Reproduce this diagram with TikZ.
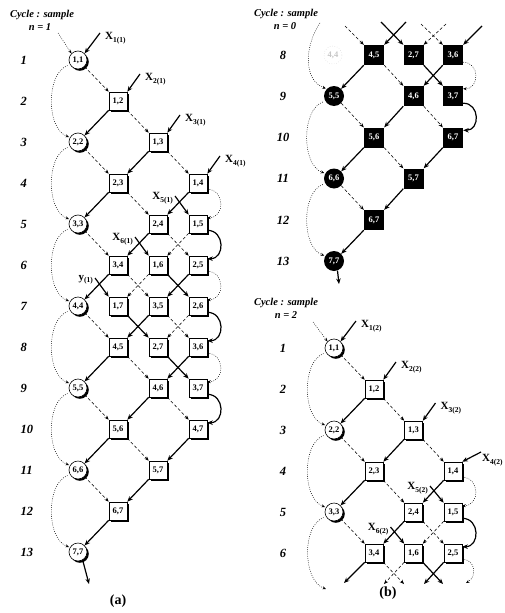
\documentclass[tikz,border=0pt]{standalone}
\usepackage{fontspec}
\setmainfont{Liberation Serif}
\usetikzlibrary{arrows.meta,shadows}
\newcommand\nodefont{\bfseries\fontsize{8.5}{9}\selectfont}
\newcommand\Xlab[2]{X\raisebox{-2.5pt}{\fontsize{7.5}{8}\selectfont #1(#2)}}
\newcommand\Ylab[1]{y\raisebox{-2.5pt}{\fontsize{7.5}{8}\selectfont (#1)}}
\newcommand\eSL[2]{\draw[solarr] (#1.south west) -- (#2.north east);}
\newcommand\eSR[2]{\draw[solarr] (#1.south east) -- (#2.north west);}
\newcommand\eDL[2]{\draw[dasharr] (#1.south west) -- (#2.north east);}
\newcommand\eDR[2]{\draw[dasharr] (#1.south east) -- (#2.north west);}
\newcommand\eArcS[2]{\draw[solarr] ([yshift=3pt]#1.south east) to[out=0,in=0,looseness=1.6] ([yshift=-3pt]#2.north east);}
\newcommand\eArcD[2]{\draw[dotarr] ([yshift=3pt]#1.south east) to[out=0,in=0,looseness=1.6] ([yshift=-3pt]#2.north east);}
\newcommand\eFB[2]{\draw[dotarr, shorten <=2.5pt, shorten >=1pt] (#1.210) to[out=200,in=160,looseness=0.9] (#2.150);}
\tikzset{
  sq/.style={rectangle, draw, line width=0.6pt, fill=white, minimum size=18pt, inner sep=0pt, font=\nodefont,
    general shadow={fill=black, shadow xshift=1.8pt, shadow yshift=-1.8pt}},
  cir/.style={circle, draw, line width=0.6pt, fill=white, minimum size=18pt, inner sep=0pt, font=\nodefont,
    general shadow={fill=black, shadow xshift=1.8pt, shadow yshift=-1.8pt}},
  bsq/.style={rectangle, fill=black, minimum size=20pt, inner sep=0pt, text=white, font=\nodefont},
  bcir/.style={circle, fill=black, minimum size=20pt, inner sep=0pt, text=white, font=\nodefont},
  ghost/.style={circle, draw=gray!45, dotted, minimum size=18pt, inner sep=0pt, text=gray!45, font=\nodefont},
  solarr/.style={line width=1.2pt, -{Stealth[length=5.5pt,width=4.5pt]}},
  dasharr/.style={line width=0.55pt, dash pattern=on 3pt off 2.2pt, -{Stealth[length=4.5pt,width=3.5pt]}},
  dotarr/.style={line width=0.5pt, dash pattern=on 0.8pt off 1.4pt, -{Stealth[length=3.5pt,width=3pt]}},
  rowlab/.style={font=\bfseries\itshape\fontsize{12.5}{13}\selectfont, inner sep=0pt},
  cyc/.style={font=\bfseries\itshape\fontsize{10.5}{11}\selectfont, inner sep=0pt},
  inlab/.style={font=\bfseries\fontsize{11}{12}\selectfont, inner sep=0pt},
  panlab/.style={font=\bfseries\fontsize{14}{15}\selectfont, inner sep=0pt}
}
\begin{document}
\begin{tikzpicture}[x=1pt,y=1pt]
\useasboundingbox (0,0) rectangle (504,-613);
\fill[white] (0,0) rectangle (504,-613);

% ================= Panel (a) =================
\node[cyc] (cyca) at (42,-15) {Cycle : sample};
\node[cyc] (na) at (40,-27) {n = 1};
\foreach \k in {1,...,13}{
  \node[rowlab, anchor=west] (ra\k) at (20.5,{-60-41*(\k-1)}) {\k};
}
\node[cir] (a11) at (78,-60) {1,1};
\node[sq] (a12) at (118,-101) {1,2};
\node[cir] (a22) at (78,-142) {2,2};
\node[sq] (a13) at (158,-142) {1,3};
\node[sq] (a23) at (118,-183) {2,3};
\node[sq] (a14) at (198,-183) {1,4};
\node[cir] (a33) at (78,-224) {3,3};
\node[sq] (a24) at (158,-224) {2,4};
\node[sq] (a15) at (198,-224) {1,5};
\node[sq] (a34) at (118,-265) {3,4};
\node[sq] (a16) at (158,-265) {1,6};
\node[sq] (a25) at (198,-265) {2,5};
\node[cir] (a44) at (78,-306) {4,4};
\node[sq] (a17) at (118,-306) {1,7};
\node[sq] (a35) at (158,-306) {3,5};
\node[sq] (a26) at (198,-306) {2,6};
\node[sq] (a45) at (118,-347) {4,5};
\node[sq] (a27) at (158,-347) {2,7};
\node[sq] (a36) at (198,-347) {3,6};
\node[cir] (a55) at (78,-388) {5,5};
\node[sq] (a46) at (158,-388) {4,6};
\node[sq] (a37) at (198,-388) {3,7};
\node[sq] (a56) at (118,-429) {5,6};
\node[sq] (a47) at (198,-429) {4,7};
\node[cir] (a66) at (78,-470) {6,6};
\node[sq] (a57) at (158,-470) {5,7};
\node[sq] (a67) at (118,-511) {6,7};
\node[cir] (a77) at (78,-552) {7,7};

\eDR{a11}{a12}
\eSL{a12}{a22} \eDR{a12}{a13}
\eDR{a22}{a23} \eSL{a13}{a23} \eDR{a13}{a14}
\eSL{a23}{a33} \eDR{a23}{a24} \eSL{a14}{a24} \eArcD{a14}{a15}
\eDR{a33}{a34} \eSL{a24}{a34} \eDR{a24}{a25} \eDL{a15}{a16} \eArcS{a15}{a25}
\eSL{a34}{a44} \eDR{a34}{a35} \eDL{a16}{a17} \eSR{a16}{a26} \eSL{a25}{a35} \eArcD{a25}{a26}
\eDR{a44}{a45} \eSR{a17}{a27} \eSL{a35}{a45} \eDR{a35}{a36} \eDL{a26}{a27} \eArcS{a26}{a36}
\eSL{a45}{a55} \eDR{a45}{a46} \eSR{a27}{a37} \eSL{a36}{a46} \eArcD{a36}{a37}
\eDR{a55}{a56} \eSL{a46}{a56} \eDR{a46}{a47} \eArcS{a37}{a47}
\eSL{a56}{a66} \eDR{a56}{a57} \eSL{a47}{a57}
\eDR{a66}{a67} \eSL{a57}{a67}
\eSL{a67}{a77}
\coordinate (aout) at (89,-584);
\draw[solarr] (a77.-60) -- (aout);

\coordinate (ain) at (58,-33);
\draw[dotarr] (ain) -- (a11.north west);
\eFB{a11}{a22} \eFB{a22}{a33} \eFB{a33}{a44} \eFB{a44}{a55} \eFB{a55}{a66} \eFB{a66}{a77}

\node[inlab, anchor=west] (xa1) at (105,-38) {\Xlab{1}{1}};
\coordinate (sa1) at (100,-33); \draw[solarr] (sa1) -- (a11.north east);
\node[inlab, anchor=west] (xa2) at (145,-79) {\Xlab{2}{1}};
\coordinate (sa2) at (140,-74); \draw[solarr] (sa2) -- (a12.north east);
\node[inlab, anchor=west] (xa3) at (185,-120) {\Xlab{3}{1}};
\coordinate (sa3) at (180,-115); \draw[solarr] (sa3) -- (a13.north east);
\node[inlab, anchor=west] (xa4) at (225,-161) {\Xlab{4}{1}};
\coordinate (sa4) at (220,-156); \draw[solarr] (sa4) -- (a14.north east);
\node[inlab, anchor=east] (xa5) at (173,-198) {\Xlab{5}{1}};
\coordinate (sa5) at (175,-196); \draw[solarr] (sa5) -- (a15.north west);
\node[inlab, anchor=east] (xa6) at (133,-239) {\Xlab{6}{1}};
\coordinate (sa6) at (135,-237); \draw[solarr] (sa6) -- (a16.north west);
\node[inlab, anchor=east] (ya7) at (93,-280) {\Ylab{1}};
\coordinate (sa7) at (95,-278); \draw[solarr] (sa7) -- (a17.north west);

\node[panlab] (pa) at (118,-601) {(a)};

% ================= Panel (b) top, n = 0 =================
\node[cyc] (cycb) at (286,-14) {Cycle : sample};
\node[cyc] (nb) at (285,-26) {n = 0};
\foreach \k/\yy in {8/55,9/96,10/137.5,11/178.5,12/220,13/261}{
  \node[rowlab] (rb\k) at (283,-\yy) {\k};
}
\node[ghost] (g44) at (333,-55) {4,4};
\node[bsq] (b45) at (374,-55) {4,5};
\node[bsq] (b27) at (413.5,-55) {2,7};
\node[bsq] (b36) at (453,-55) {3,6};
\node[bcir] (b55) at (334,-96) {5,5};
\node[bsq] (b46) at (413.5,-96) {4,6};
\node[bsq] (b37) at (453,-96) {3,7};
\node[bsq] (b56) at (374,-137.5) {5,6};
\node[bsq] (b47) at (453,-137.5) {6,7};
\node[bcir] (b66) at (334,-178.5) {6,6};
\node[bsq] (b57) at (413.5,-178.5) {5,7};
\node[bsq] (b67) at (374,-220) {6,7};
\node[bcir] (b77) at (334,-261) {7,7};

\coordinate (t1) at (345,-26); \draw[dasharr] (t1) -- (b45.north west);
\coordinate (t2) at (406,-22); \draw[solarr] (t2) -- (b45.north east);
\coordinate (t3) at (381,-22); \draw[solarr] (t3) -- (b27.north west);
\coordinate (t4) at (446,-24); \draw[dasharr] (t4) -- (b27.north east);
\coordinate (t5) at (421,-24); \draw[dasharr] (t5) -- (b36.north west);
\coordinate (t6) at (482,-26); \draw[solarr] (t6) -- (b36.north east);

\eSL{b45}{b55} \eDR{b45}{b46} \eSR{b27}{b37} \eSL{b36}{b46} \eArcD{b36}{b37}
\eDR{b55}{b56} \eSL{b46}{b56} \eDR{b46}{b47} \eArcS{b37}{b47}
\eSL{b56}{b66} \eDR{b56}{b57} \eSL{b47}{b57}
\eDR{b66}{b67} \eSL{b57}{b67}
\eSL{b67}{b77}
\coordinate (bout) at (339,-284);
\draw[solarr] (b77.-70) -- (bout);

\coordinate (bin) at (320,-23);
\draw[dotarr, shorten >=1pt] (bin) to[out=235,in=160] (b55.north west);
\eFB{b55}{b66} \eFB{b66}{b77}

% ================= Panel (b) bottom, n = 2 =================
\node[cyc] (cycc) at (286,-303) {Cycle : sample};
\node[cyc] (nc) at (286,-315) {n = 2};
\foreach \k in {1,...,6}{
  \node[rowlab] (rc\k) at (283,{-348-41*(\k-1)}) {\k};
}
\node[cir] (c11) at (334,-348) {1,1};
\node[sq] (c12) at (374,-389) {1,2};
\node[cir] (c22) at (334,-430) {2,2};
\node[sq] (c13) at (413.5,-430) {1,3};
\node[sq] (c23) at (374,-471) {2,3};
\node[sq] (c14) at (453,-471) {1,4};
\node[cir] (c33) at (334,-512) {3,3};
\node[sq] (c24) at (413.5,-512) {2,4};
\node[sq] (c15) at (453,-512) {1,5};
\node[sq] (c34) at (374,-553) {3,4};
\node[sq] (c16) at (413.5,-553) {1,6};
\node[sq] (c25) at (453,-553) {2,5};

\eDR{c11}{c12}
\eSL{c12}{c22} \eDR{c12}{c13}
\eDR{c22}{c23} \eSL{c13}{c23} \eDR{c13}{c14}
\eSL{c23}{c33} \eDR{c23}{c24} \eSL{c14}{c24} \eArcD{c14}{c15}
\eDR{c33}{c34} \eSL{c24}{c34} \eDR{c24}{c25} \eDL{c15}{c16} \eArcS{c15}{c25}

\coordinate (u1) at (344,-583); \draw[solarr] (c34.south west) -- (u1);
\coordinate (u2) at (404,-584); \draw[dasharr] (c34.south east) -- (u2);
\coordinate (u3) at (384,-584); \draw[dasharr] (c16.south west) -- (u3);
\coordinate (u4) at (443,-584); \draw[solarr] (c16.south east) -- (u4);
\coordinate (u5) at (424,-584); \draw[solarr] (c25.south west) -- (u5);
\coordinate (u6) at (466,-583);
\draw[dotarr] ([yshift=3pt]c25.south east) to[out=0,in=30,looseness=1.4] (u6);

\coordinate (cin) at (313,-322);
\draw[dotarr] (cin) -- (c11.north west);
\eFB{c11}{c22} \eFB{c22}{c33}
\coordinate (cfb) at (326,-589);
\draw[dotarr, shorten <=2.5pt] (c33.210) to[out=200,in=160,looseness=0.9] (cfb);

\node[inlab, anchor=west] (xc1) at (361,-326) {\Xlab{1}{2}};
\coordinate (sc1) at (356,-321); \draw[solarr] (sc1) -- (c11.north east);
\node[inlab, anchor=west] (xc2) at (401,-367) {\Xlab{2}{2}};
\coordinate (sc2) at (396,-362); \draw[solarr] (sc2) -- (c12.north east);
\node[inlab, anchor=west] (xc3) at (440.5,-408) {\Xlab{3}{2}};
\coordinate (sc3) at (435.5,-403); \draw[solarr] (sc3) -- (c13.north east);
\node[inlab, anchor=west] (xc4) at (482,-460) {\Xlab{4}{2}};
\coordinate (sc4) at (481,-452); \draw[solarr] (sc4) -- (c14.north east);
\node[inlab, anchor=east] (xc5) at (428,-488) {\Xlab{5}{2}};
\coordinate (sc5) at (430,-486); \draw[solarr] (sc5) -- (c15.north west);
\node[inlab, anchor=east] (xc6) at (388.5,-529) {\Xlab{6}{2}};
\coordinate (sc6) at (390.5,-527); \draw[solarr] (sc6) -- (c16.north west);

\node[panlab] (pb) at (388,-593) {(b)};
\end{tikzpicture}
\end{document}
